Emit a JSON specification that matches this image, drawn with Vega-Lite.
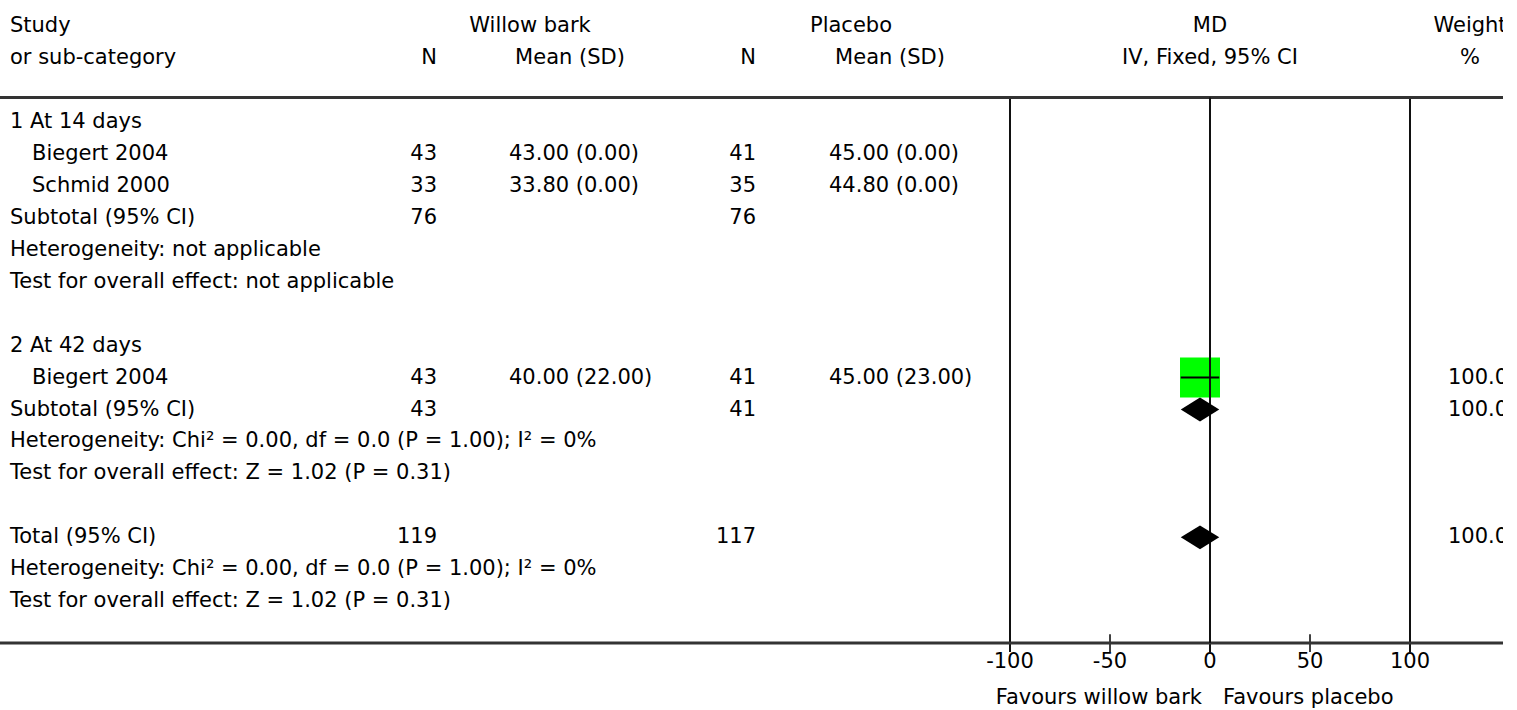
{
  "$schema": "https://vega.github.io/schema/vega-lite/v6.json",
  "width": 1503,
  "height": 710,
  "autosize": {"type": "none"},
  "padding": 0,
  "background": "white",
  "config": {
    "view": {"stroke": null},
    "text": {"font": "DejaVu Sans", "fontSize": 21, "color": "black"}
  },
  "datasets": {
    "cells": [
      {"row": -3, "col": "label", "text": "Study"},
      {"row": -2, "col": "label", "text": "or sub-category"},
      {"row": -3, "col": "grp1", "text": "Willow bark"},
      {"row": -2, "col": "n1", "text": "N"},
      {"row": -2, "col": "mh1", "text": "Mean (SD)"},
      {"row": -3, "col": "grp2", "text": "Placebo"},
      {"row": -2, "col": "n2", "text": "N"},
      {"row": -2, "col": "mh2", "text": "Mean (SD)"},
      {"row": -3, "col": "mdh", "text": "MD"},
      {"row": -2, "col": "mdh", "text": "IV, Fixed, 95% CI"},
      {"row": -3, "col": "wh", "text": "Weight"},
      {"row": -2, "col": "wh", "text": "%"},
      {"row": 0, "col": "label", "text": "1 At 14 days"},
      {"row": 1, "col": "study", "text": "Biegert 2004"},
      {"row": 1, "col": "n1", "text": "43"},
      {"row": 1, "col": "mean1", "text": "43.00 (0.00)"},
      {"row": 1, "col": "n2", "text": "41"},
      {"row": 1, "col": "mean2", "text": "45.00 (0.00)"},
      {"row": 2, "col": "study", "text": "Schmid 2000"},
      {"row": 2, "col": "n1", "text": "33"},
      {"row": 2, "col": "mean1", "text": "33.80 (0.00)"},
      {"row": 2, "col": "n2", "text": "35"},
      {"row": 2, "col": "mean2", "text": "44.80 (0.00)"},
      {"row": 3, "col": "label", "text": "Subtotal (95% CI)"},
      {"row": 3, "col": "n1", "text": "76"},
      {"row": 3, "col": "n2", "text": "76"},
      {"row": 4, "col": "label", "text": "Heterogeneity: not applicable"},
      {"row": 5, "col": "label", "text": "Test for overall effect: not applicable"},
      {"row": 7, "col": "label", "text": "2 At 42 days"},
      {"row": 8, "col": "study", "text": "Biegert 2004"},
      {"row": 8, "col": "n1", "text": "43"},
      {"row": 8, "col": "mean1", "text": "40.00 (22.00)"},
      {"row": 8, "col": "n2", "text": "41"},
      {"row": 8, "col": "mean2", "text": "45.00 (23.00)"},
      {"row": 8, "col": "weight", "text": "100.00"},
      {"row": 9, "col": "label", "text": "Subtotal (95% CI)"},
      {"row": 9, "col": "n1", "text": "43"},
      {"row": 9, "col": "n2", "text": "41"},
      {"row": 9, "col": "weight", "text": "100.00"},
      {"row": 10, "col": "label", "text": "Heterogeneity: Chi² = 0.00, df = 0.0 (P = 1.00); I² = 0%"},
      {"row": 11, "col": "label", "text": "Test for overall effect: Z = 1.02 (P = 0.31)"},
      {"row": 13, "col": "label", "text": "Total (95% CI)"},
      {"row": 13, "col": "n1", "text": "119"},
      {"row": 13, "col": "n2", "text": "117"},
      {"row": 13, "col": "weight", "text": "100.00"},
      {"row": 14, "col": "label", "text": "Heterogeneity: Chi² = 0.00, df = 0.0 (P = 1.00); I² = 0%"},
      {"row": 15, "col": "label", "text": "Test for overall effect: Z = 1.02 (P = 0.31)"}
    ],
    "effects": [
      {"row": 8, "type": "study", "md": -5, "lo": -14.63, "hi": 4.63},
      {"row": 9, "type": "summary", "md": -5, "lo": -14.63, "hi": 4.63},
      {"row": 13, "type": "summary", "md": -5, "lo": -14.63, "hi": 4.63}
    ],
    "ticks": [{"v": -100}, {"v": -50}, {"v": 0}, {"v": 50}, {"v": 100}],
    "hlines": [{"pos": -0.767}, {"pos": 16.31}],
    "favours": [
      {"side": "left", "text": "Favours willow bark"},
      {"side": "right", "text": "Favours placebo"}
    ]
  },
  "layer": [
    {
      "data": {"name": "ticks"},
      "transform": [{"filter": "datum.v % 100 == 0"}],
      "mark": {"type": "rule", "color": "#111", "strokeWidth": 2},
      "encoding": {
        "x": {
          "field": "v", "type": "quantitative",
          "scale": {"domain": [-605, 146.5], "nice": false, "zero": false},
          "axis": null
        },
        "y": {
          "datum": -0.767, "type": "quantitative",
          "scale": {"domain": [-3.818, 18.404], "reverse": true, "nice": false, "zero": false},
          "axis": null
        },
        "y2": {"datum": 16.59}
      }
    },
    {
      "data": {"name": "ticks"},
      "transform": [{"filter": "datum.v % 100 != 0"}],
      "mark": {"type": "rule", "color": "black", "strokeWidth": 1.5},
      "encoding": {
        "x": {"field": "v", "type": "quantitative", "axis": null},
        "y": {"datum": 16.03, "type": "quantitative", "axis": null},
        "y2": {"datum": 16.59}
      }
    },
    {
      "data": {"name": "hlines"},
      "mark": {"type": "rule", "color": "#333", "strokeWidth": 3},
      "encoding": {
        "x": {"datum": -605, "type": "quantitative", "axis": null},
        "x2": {"datum": 146.5},
        "y": {"field": "pos", "type": "quantitative", "axis": null}
      }
    },
    {
      "data": {"name": "ticks"},
      "mark": {"type": "text", "align": "center", "baseline": "middle"},
      "encoding": {
        "x": {"field": "v", "type": "quantitative", "axis": null},
        "y": {"datum": 16.9, "type": "quantitative", "axis": null},
        "text": {"field": "v", "type": "nominal"}
      }
    },
    {
      "data": {"name": "effects"},
      "transform": [{"filter": "datum.type == 'study'"}],
      "mark": {"type": "point", "shape": "square", "filled": true, "size": 1600, "color": "#00ff00", "opacity": 1, "strokeWidth": 0},
      "encoding": {
        "x": {"field": "md", "type": "quantitative", "axis": null},
        "y": {"field": "row", "type": "quantitative", "axis": null}
      }
    },
    {
      "data": {"name": "ticks"},
      "transform": [{"filter": "datum.v == 0"}],
      "mark": {"type": "rule", "color": "#111", "strokeWidth": 2},
      "encoding": {
        "x": {"field": "v", "type": "quantitative", "axis": null},
        "y": {"datum": -0.767, "type": "quantitative", "axis": null},
        "y2": {"datum": 16.31}
      }
    },
    {
      "data": {"name": "effects"},
      "transform": [{"filter": "datum.type == 'study'"}],
      "mark": {"type": "rule", "color": "black", "strokeWidth": 2},
      "encoding": {
        "x": {"field": "lo", "type": "quantitative", "axis": null},
        "x2": {"field": "hi"},
        "y": {"field": "row", "type": "quantitative", "axis": null}
      }
    },
    {
      "data": {"name": "effects"},
      "transform": [{"filter": "datum.type == 'summary'"}],
      "mark": {"type": "point", "shape": "M-1,0L0,-0.62L1,0L0,0.62Z", "filled": true, "size": 1482, "color": "black", "opacity": 1, "strokeWidth": 0},
      "encoding": {
        "x": {"field": "md", "type": "quantitative", "axis": null},
        "y": {"field": "row", "type": "quantitative", "axis": null}
      }
    },
    {
      "data": {"name": "cells"},
      "transform": [{"filter": "datum.col == 'label'"}],
      "mark": {"type": "text", "align": "left", "baseline": "middle"},
      "encoding": {
        "x": {"datum": -600, "type": "quantitative", "axis": null},
        "y": {"field": "row", "type": "quantitative", "axis": null},
        "text": {"field": "text"}
      }
    },
    {
      "data": {"name": "cells"},
      "transform": [{"filter": "datum.col == 'study'"}],
      "mark": {"type": "text", "align": "left", "baseline": "middle"},
      "encoding": {
        "x": {"datum": -589, "type": "quantitative", "axis": null},
        "y": {"field": "row", "type": "quantitative", "axis": null},
        "text": {"field": "text"}
      }
    },
    {
      "data": {"name": "cells"},
      "transform": [{"filter": "datum.col == 'n1'"}],
      "mark": {"type": "text", "align": "right", "baseline": "middle"},
      "encoding": {
        "x": {"datum": -386.5, "type": "quantitative", "axis": null},
        "y": {"field": "row", "type": "quantitative", "axis": null},
        "text": {"field": "text"}
      }
    },
    {
      "data": {"name": "cells"},
      "transform": [{"filter": "datum.col == 'mean1'"}],
      "mark": {"type": "text", "align": "left", "baseline": "middle"},
      "encoding": {
        "x": {"datum": -350.5, "type": "quantitative", "axis": null},
        "y": {"field": "row", "type": "quantitative", "axis": null},
        "text": {"field": "text"}
      }
    },
    {
      "data": {"name": "cells"},
      "transform": [{"filter": "datum.col == 'n2'"}],
      "mark": {"type": "text", "align": "right", "baseline": "middle"},
      "encoding": {
        "x": {"datum": -227, "type": "quantitative", "axis": null},
        "y": {"field": "row", "type": "quantitative", "axis": null},
        "text": {"field": "text"}
      }
    },
    {
      "data": {"name": "cells"},
      "transform": [{"filter": "datum.col == 'mean2'"}],
      "mark": {"type": "text", "align": "left", "baseline": "middle"},
      "encoding": {
        "x": {"datum": -190.5, "type": "quantitative", "axis": null},
        "y": {"field": "row", "type": "quantitative", "axis": null},
        "text": {"field": "text"}
      }
    },
    {
      "data": {"name": "cells"},
      "transform": [{"filter": "datum.col == 'weight'"}],
      "mark": {"type": "text", "align": "left", "baseline": "middle", "clip": true},
      "encoding": {
        "x": {"datum": 119, "type": "quantitative", "axis": null},
        "y": {"field": "row", "type": "quantitative", "axis": null},
        "text": {"field": "text"}
      }
    },
    {
      "data": {"name": "cells"},
      "transform": [{"filter": "datum.col == 'grp1'"}],
      "mark": {"type": "text", "align": "center", "baseline": "middle"},
      "encoding": {
        "x": {"datum": -340, "type": "quantitative", "axis": null},
        "y": {"field": "row", "type": "quantitative", "axis": null},
        "text": {"field": "text"}
      }
    },
    {
      "data": {"name": "cells"},
      "transform": [{"filter": "datum.col == 'grp2'"}],
      "mark": {"type": "text", "align": "center", "baseline": "middle"},
      "encoding": {
        "x": {"datum": -179.5, "type": "quantitative", "axis": null},
        "y": {"field": "row", "type": "quantitative", "axis": null},
        "text": {"field": "text"}
      }
    },
    {
      "data": {"name": "cells"},
      "transform": [{"filter": "datum.col == 'mh1'"}],
      "mark": {"type": "text", "align": "center", "baseline": "middle"},
      "encoding": {
        "x": {"datum": -320, "type": "quantitative", "axis": null},
        "y": {"field": "row", "type": "quantitative", "axis": null},
        "text": {"field": "text"}
      }
    },
    {
      "data": {"name": "cells"},
      "transform": [{"filter": "datum.col == 'mh2'"}],
      "mark": {"type": "text", "align": "center", "baseline": "middle"},
      "encoding": {
        "x": {"datum": -160, "type": "quantitative", "axis": null},
        "y": {"field": "row", "type": "quantitative", "axis": null},
        "text": {"field": "text"}
      }
    },
    {
      "data": {"name": "cells"},
      "transform": [{"filter": "datum.col == 'mdh'"}],
      "mark": {"type": "text", "align": "center", "baseline": "middle"},
      "encoding": {
        "x": {"datum": 0, "type": "quantitative", "axis": null},
        "y": {"field": "row", "type": "quantitative", "axis": null},
        "text": {"field": "text"}
      }
    },
    {
      "data": {"name": "cells"},
      "transform": [{"filter": "datum.col == 'wh'"}],
      "mark": {"type": "text", "align": "center", "baseline": "middle", "clip": true},
      "encoding": {
        "x": {"datum": 130, "type": "quantitative", "axis": null},
        "y": {"field": "row", "type": "quantitative", "axis": null},
        "text": {"field": "text"}
      }
    },
    {
      "data": {"name": "favours"},
      "transform": [{"filter": "datum.side == 'left'"}],
      "mark": {"type": "text", "align": "right", "baseline": "middle"},
      "encoding": {
        "x": {"datum": -4, "type": "quantitative", "axis": null},
        "y": {"datum": 18.03, "type": "quantitative", "axis": null},
        "text": {"field": "text"}
      }
    },
    {
      "data": {"name": "favours"},
      "transform": [{"filter": "datum.side == 'right'"}],
      "mark": {"type": "text", "align": "left", "baseline": "middle"},
      "encoding": {
        "x": {"datum": 6.5, "type": "quantitative", "axis": null},
        "y": {"datum": 18.03, "type": "quantitative", "axis": null},
        "text": {"field": "text"}
      }
    }
  ]
}
